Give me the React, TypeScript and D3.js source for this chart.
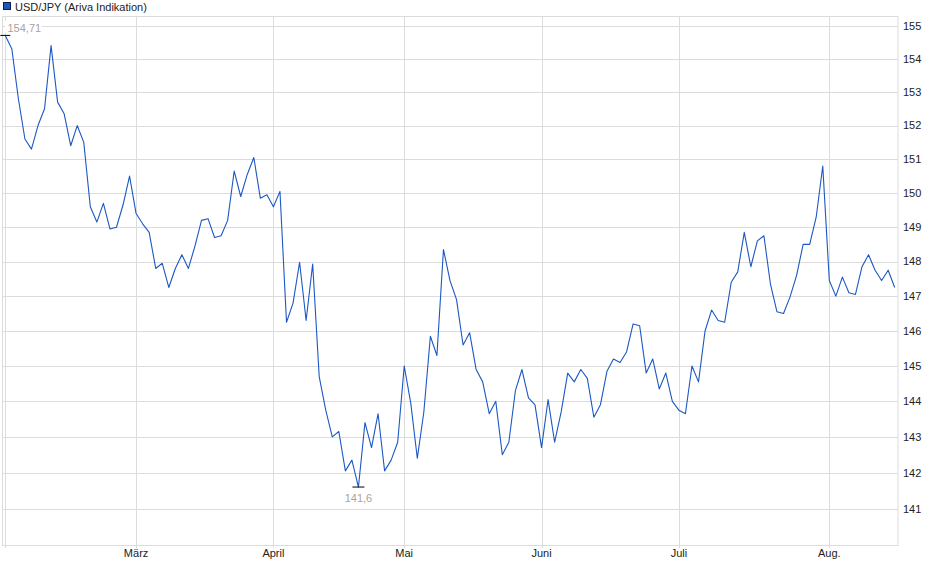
import * as React from 'react';
import * as d3 from 'd3';

// USD/JPY daily values, Feb 3 to mid Aug (one entry per trading day)
const values: number[] = [
  154.71, 154.3, 152.8, 151.6, 151.3, 152.0, 152.5, 154.4, 152.7, 152.35,
  151.4, 152.0, 151.5, 149.6, 149.15, 149.7, 148.95, 149.0, 149.65, 150.5,
  149.4, 149.1, 148.85, 147.8, 147.95, 147.25, 147.8, 148.2, 147.8, 148.45,
  149.2, 149.25, 148.7, 148.75, 149.2, 150.65, 149.9, 150.55, 151.05, 149.85,
  149.95, 149.6, 150.05, 146.25, 146.8, 147.98, 146.3, 147.93, 144.7, 143.75,
  143.0, 143.15, 142.05, 142.35, 141.6, 143.4, 142.7, 143.65, 142.05, 142.35,
  142.85, 145.0, 143.95, 142.4, 143.7, 145.85, 145.3, 148.35, 147.45, 146.9,
  145.6, 145.95, 144.9, 144.55, 143.65, 144.0, 142.5, 142.85, 144.3, 144.9,
  144.1, 143.9, 142.7, 144.05, 142.85, 143.7, 144.8, 144.55, 144.9, 144.65,
  143.55, 143.9, 144.85, 145.2, 145.1, 145.4, 146.2, 146.15, 144.8, 145.2,
  144.35, 144.8, 144.0, 143.75, 143.65, 145.0, 144.55, 146.0, 146.6, 146.3,
  146.25, 147.4, 147.7, 148.85, 147.85, 148.6, 148.75, 147.35, 146.55, 146.5,
  146.98, 147.6, 148.5, 148.5, 149.3, 150.8, 147.45, 147.0, 147.55, 147.1,
  147.05, 147.85, 148.2, 147.75, 147.45, 147.75, 147.25,
];

// month ticks: index of first trading day of each month
const monthIndex: number[] = [0, 20, 41, 61, 82, 103, 126];
const monthLabels: string[] = ['', 'März', 'April', 'Mai', 'Juni', 'Juli', 'Aug.'];

const yTicks: number[] = d3.range(141, 156);

const seriesName = 'USD/JPY (Ariva Indikation)';
const maxLabel = '154,71';
const minLabel = '141,6';

const W = 940;
const H = 579;

const App: React.FC = () => {
  const svgRef = React.useRef<SVGSVGElement>(null);

  React.useEffect(() => {
    const svg = d3.select(svgRef.current);
    svg.selectAll('*').remove();

    const left = 2.5, right = 898, top = 16, bottom = 545;
    const font = '"Liberation Sans", Arial, sans-serif';
    const gridColor = '#dcdcdc';

    const xScale = d3.scaleLinear().domain([0, 136]).range([5.3, 894.7]);
    const yScale = d3.scaleLog().domain([140, 155.3]).range([bottom, top]);

    // horizontal grid
    svg.append('g')
      .selectAll('line')
      .data(yTicks)
      .enter().append('line')
        .attr('x1', left).attr('x2', right)
        .attr('y1', d => Math.round(yScale(d)) + 0.5)
        .attr('y2', d => Math.round(yScale(d)) + 0.5)
        .attr('stroke', gridColor);

    // vertical grid + ticks
    svg.append('g')
      .selectAll('line')
      .data(monthIndex)
      .enter().append('line')
        .attr('x1', d => Math.round(xScale(d)) + 0.5)
        .attr('x2', d => Math.round(xScale(d)) + 0.5)
        .attr('y1', top).attr('y2', bottom + 3)
        .attr('stroke', gridColor);

    // frame
    svg.append('rect')
      .attr('x', left).attr('y', top + 0.5)
      .attr('width', right - left).attr('height', bottom - top)
      .attr('fill', 'none')
      .attr('stroke', gridColor);

    // right axis labels
    svg.append('g')
      .selectAll('text')
      .data(yTicks)
      .enter().append('text')
        .attr('x', 903)
        .attr('y', d => yScale(d))
        .attr('dy', '0.35em')
        .attr('font-family', font)
        .attr('font-size', 11)
        .attr('fill', '#222')
        .text(d => String(d));

    // bottom month labels
    svg.append('g')
      .selectAll('text')
      .data(monthIndex)
      .enter().append('text')
        .attr('x', d => xScale(d))
        .attr('y', 557)
        .attr('text-anchor', 'middle')
        .attr('font-family', font)
        .attr('font-size', 11)
        .attr('fill', '#222')
        .text((d, i) => monthLabels[i]);

    // price line
    const line = d3.line<number>()
      .x((d, i) => xScale(i))
      .y(d => yScale(d));

    svg.append('path')
      .datum(values)
      .attr('d', line)
      .attr('fill', 'none')
      .attr('stroke', '#1c58c4')
      .attr('stroke-width', 1.1)
      .attr('stroke-linejoin', 'round');

    // max annotation
    const iMax = d3.maxIndex(values);
    const yMax = yScale(values[iMax]);
    svg.append('rect')
      .attr('x', 5).attr('y', 21)
      .attr('width', 37).attr('height', 12)
      .attr('fill', '#fff');
    svg.append('text')
      .attr('x', 7.5).attr('y', 31.5)
      .attr('font-family', font)
      .attr('font-size', 11)
      .attr('fill', '#aaa39b')
      .text(maxLabel);
    svg.append('line')
      .attr('x1', xScale(iMax) - 5).attr('x2', xScale(iMax) + 5)
      .attr('y1', yMax).attr('y2', yMax)
      .attr('stroke', '#000');

    // min annotation
    const iMin = d3.minIndex(values);
    const yMin = yScale(values[iMin]);
    svg.append('line')
      .attr('x1', xScale(iMin) - 6).attr('x2', xScale(iMin) + 6)
      .attr('y1', yMin).attr('y2', yMin)
      .attr('stroke', '#000');
    svg.append('text')
      .attr('x', xScale(iMin))
      .attr('y', 501.5)
      .attr('text-anchor', 'middle')
      .attr('font-family', font)
      .attr('font-size', 11)
      .attr('fill', '#aaa39b')
      .text(minLabel);

    // legend
    svg.append('rect')
      .attr('x', 3.5).attr('y', 2.5)
      .attr('width', 7).attr('height', 7)
      .attr('fill', '#1f55b8')
      .attr('stroke', '#0b1f4a');
    svg.append('text')
      .attr('x', 15).attr('y', 10.5)
      .attr('font-family', font)
      .attr('font-size', 11)
      .attr('fill', '#222')
      .text(seriesName);
  }, []);

  return (
    <svg
      ref={svgRef}
      width={W}
      height={H}
      style={{ position: 'fixed', left: 0, top: 0, background: '#fff' }}
    />
  );
};

export default App;
